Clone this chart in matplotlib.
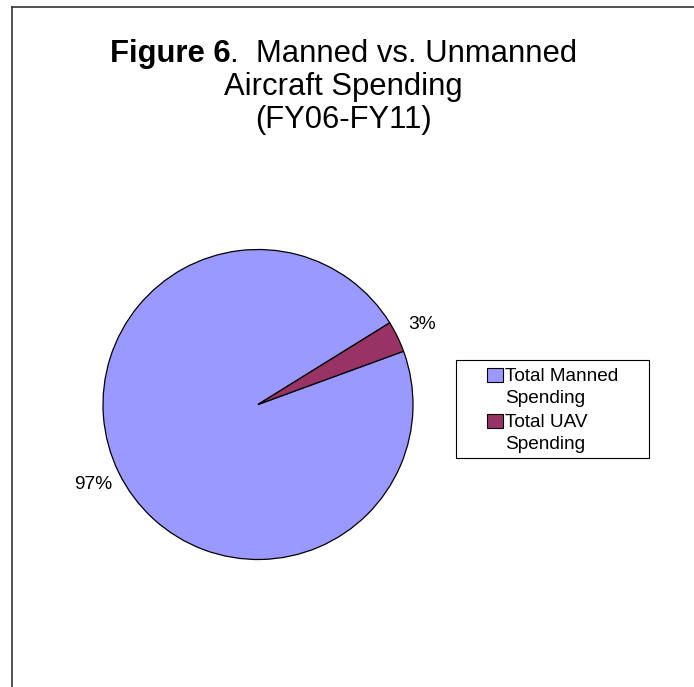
import matplotlib
matplotlib.use("Agg")
import matplotlib.pyplot as plt
from matplotlib.lines import Line2D
from matplotlib.patches import Rectangle, Wedge
from matplotlib.legend_handler import HandlerPatch

plt.rcParams['font.family'] = ['Liberation Sans', 'DejaVu Sans']

# ---- data ----
categories = ["Total Manned\nSpending", "Total UAV\nSpending"]
shares = [96.75, 3.25]
colors = ["#9999FF", "#993366"]
title_bold = "Figure 6"
title_rest = ".  Manned vs. Unmanned"
title_lines = ["Aircraft Spending", "(FY06-FY11)"]

W, H = 694, 687
fig = plt.figure(figsize=(W / 100, H / 100), dpi=100)
fig.patch.set_facecolor("white")

# ---- pie ----
cx, cy, r = 258, 404.5, 155
half = r * 1.25
ax = fig.add_axes([(cx - half) / W, (H - cy - half) / H, 2 * half / W, 2 * half / H])
wedges, _, pcts = ax.pie(
    shares, colors=colors, startangle=20.1, counterclock=False,
    autopct='%.0f%%', pctdistance=1.18,
    wedgeprops=dict(edgecolor='black', linewidth=0.9),
    textprops=dict(fontsize=13.8, color='black'))
ax.set_aspect('equal')
for t in pcts:
    t.set_ha('center')
    t.set_va('center')

# ---- title (mixed bold / regular on first line) ----
title_fs = 22.3
xc = 343.5 / W
renderer = fig.canvas.get_renderer()
tb = fig.text(0, 1 - 61.7 / H, title_bold, fontsize=title_fs, fontweight='bold', va='baseline', ha='left')
tr = fig.text(0, 1 - 61.7 / H, title_rest, fontsize=title_fs, va='baseline', ha='left')
wb = tb.get_window_extent(renderer).width
wr = tr.get_window_extent(renderer).width
x0 = xc * W - (wb + wr) / 2
tb.set_x(x0 / W)
tr.set_x((x0 + wb) / W)
for line, yb in zip(title_lines, [95.0, 128.3]):
    fig.text(xc, 1 - yb / H, line, fontsize=title_fs, ha='center', va='baseline')


# ---- legend ----
def first_line_square(legend, orig_handle, xdescent, ydescent, width, height, fontsize):
    shift = 0.66 * fontsize
    return Rectangle((-xdescent, -ydescent + shift), width, height)


leg_fs = 13.7
leg = fig.legend(
    wedges, categories, loc='upper left',
    bbox_to_anchor=(486.7 / W, 1 - 368 / H),
    frameon=False, fontsize=leg_fs, handlelength=0.84, handleheight=0.76,
    handletextpad=0.13, labelspacing=0.37, borderpad=0, borderaxespad=0,
    handler_map={Wedge: HandlerPatch(patch_func=first_line_square)})
for h in leg.legend_handles:
    h.set_edgecolor('black')
    h.set_linewidth(0.8)
for t in leg.get_texts():
    t.set_linespacing(1.38)

fig.add_artist(Rectangle((455.7 / W, 1 - 457.7 / H), (649.3 - 455.7) / W, (457.7 - 360) / H,
                         transform=fig.transFigure, fill=False, edgecolor='black', lw=0.8))

# ---- outer border (top and left) ----
fig.add_artist(Line2D([11.5 / W, 11.5 / W], [0, 1 - 6.5 / H], transform=fig.transFigure,
                      color='#333333', lw=1.2))
fig.add_artist(Line2D([11.5 / W, 1], [1 - 6.5 / H, 1 - 6.5 / H], transform=fig.transFigure,
                      color='#333333', lw=1.2))

fig.savefig("out.png", dpi=100, facecolor='white')
